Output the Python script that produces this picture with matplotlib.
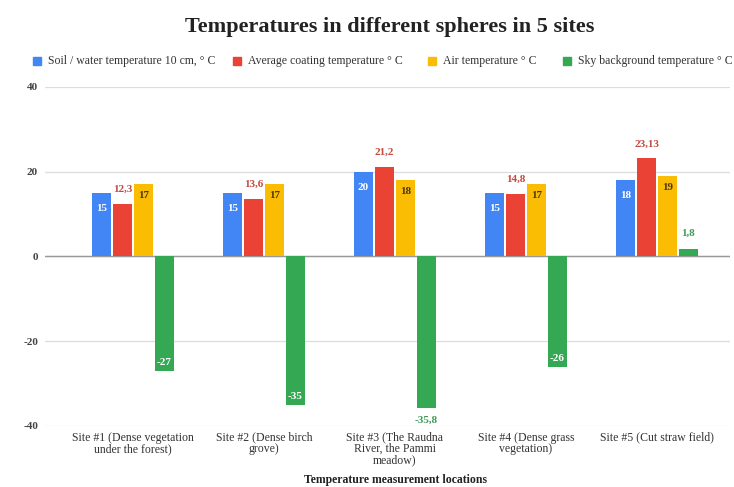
import matplotlib
matplotlib.use("Agg")
import matplotlib.pyplot as plt
from matplotlib.patches import Rectangle
import numpy as np

plt.rcParams["font.family"] = ["Liberation Serif", "DejaVu Serif"]

sites = [
    "Site #1 (Dense vegetation\nunder the forest)",
    "Site #2 (Dense birch\ngrove)",
    "Site #3 (The Raudna\nRiver, the Pammi\nmeadow)",
    "Site #4 (Dense grass\nvegetation)",
    "Site #5 (Cut straw field)",
]
series_names = [
    "Soil / water temperature 10 cm, \u00b0 C",
    "Average coating temperature \u00b0 C",
    "Air temperature \u00b0 C",
    "Sky background temperature \u00b0 C",
]
soil = [15, 15, 20, 15, 18]
coating = [12.3, 13.6, 21.2, 14.8, 23.13]
air = [17, 17, 18, 17, 19]
sky = [-27, -35, -35.8, -26, 1.8]
y_ticks = [-40, -20, 0, 20, 40]

colors = ["#4285F4", "#EA4335", "#FBBC04", "#34A853"]
series = [soil, coating, air, sky]


def fmt(v):
    return f"{v:g}".replace(".", ",")


W, H = 734, 487
fig = plt.figure(figsize=(W / 100, H / 100), dpi=100)
ax_left, ax_right = 45, 730
ax = fig.add_axes([ax_left / W, 0.1253, (ax_right - ax_left) / W, 0.6961])

x = np.arange(len(sites))
bw = 0.145
step = 0.16
offsets = [(-1.5 + i) * step for i in range(4)]
lab_fs = 8


def put(xi, v, dy, color):
    ax.annotate(fmt(v), (xi, v), xytext=(0, dy), textcoords="offset points",
                ha="center", va="center", color=color, fontsize=lab_fs,
                fontweight="bold", zorder=4)


for si, (vals, col, name) in enumerate(zip(series, colors, series_names)):
    ax.bar(x + offsets[si], vals, width=bw, color=col, label=name, zorder=3)
    for xi, v in zip(x + offsets[si], vals):
        if si == 0:
            put(xi, v, -11, "white")
        elif si == 1:
            put(xi, v, 10.5, "#c4493f")
        elif si == 2:
            put(xi, v, -8, "#4d3a08")
        else:
            if v > 0:
                put(xi, v, 11, "#3f9b58")
            elif v < -35.5:
                put(xi, v, -9, "#3f9b58")
            else:
                put(xi, v, 6, "white")

ax.set_ylim(-40, 40)
ax.set_xlim((ax_left - 133) / 131, (ax_right - 133) / 131)
ax.set_yticks(y_ticks)
ax.set_yticklabels([str(t) for t in y_ticks], fontsize=8, fontweight="bold",
                   color="#444444")
ax.set_xticks(x)
ax.set_xticklabels(sites, fontsize=8.5, color="#333333", linespacing=0.92)
ax.tick_params(axis="both", length=0)
ax.tick_params(axis="x", pad=4)
ax.tick_params(axis="y", pad=5)
for sp in ax.spines.values():
    sp.set_visible(False)
ax.grid(axis="y", color="#dddddd", linewidth=0.9, zorder=0)
ax.axhline(0, color="#999999", linewidth=1.0, zorder=2)

fig.text(395 / W, 1 - 480 / H, "Temperature measurement locations",
         ha="center", va="center", fontsize=8.5, fontweight="bold", color="#222222")

fig.text(390 / W, 1 - 27 / H, "Temperatures in different spheres in 5 sites",
         ha="center", va="center", fontsize=16, fontweight="bold", color="#222222")

# legend row: colour square followed by its series name
legend_x = [33, 233, 428, 563]
legend_y = 61
sq = 8
for lx, col, name in zip(legend_x, colors, series_names):
    fig.patches.append(Rectangle((lx / W, 1 - (legend_y + sq / 2) / H), sq / W, sq / H,
                                 transform=fig.transFigure, color=col))
    fig.text((lx + sq + 7) / W, 1 - legend_y / H, name, ha="left", va="center",
             fontsize=8.5, color="#333333")

fig.savefig("out.png", dpi=100, facecolor="white")
